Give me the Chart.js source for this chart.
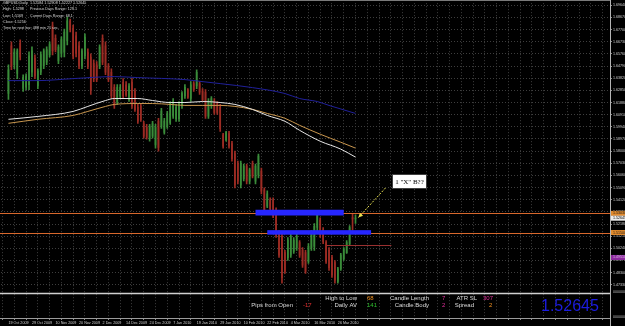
<!DOCTYPE html>
<html><head><meta charset="utf-8">
<script src="https://cdn.jsdelivr.net/npm/chart.js@4/dist/chart.umd.min.js"></script>
<style>html,body{margin:0;padding:0;background:#000;overflow:hidden}#wrap{width:625px;height:326px}</style>
</head><body><div id="wrap"><canvas id="c" width="625" height="326"></canvas></div>
<script>
// ---- data (daily GBPUSD candles, index 0 = 19 Oct 2009) ----
const opens = [1.6260,1.6640,1.6490,1.6420,1.6660,1.6300,1.6310,1.6330,1.6430,1.6540,1.6320,1.6430,1.6480,1.6510,1.6570,1.6800,1.6700,1.6520,1.6580,1.6590,1.6680,1.6840,1.6780,1.6720,1.6640,1.6480,1.6560,1.6590,1.6550,1.6500,1.6490,1.6480,1.6700,1.6640,1.6480,1.6430,1.6310,1.6190,1.6240,1.6350,1.6330,1.6210,1.6350,1.6280,1.6150,1.6160,1.6020,1.5990,1.5900,1.5920,1.5850,1.6040,1.6000,1.5950,1.6000,1.6030,1.6080,1.6060,1.6060,1.6160,1.6240,1.6290,1.6220,1.6340,1.6320,1.6340,1.6280,1.6270,1.6080,1.6160,1.6200,1.6180,1.6150,1.5930,1.5890,1.5940,1.5860,1.5780,1.5700,1.5530,1.5580,1.5680,1.5560,1.5700,1.5560,1.5610,1.5640,1.5490,1.5360,1.5410,1.5410,1.5330,1.5150,1.5120,1.4990,1.4950,1.4970,1.5000,1.5030,1.5070,1.5010,1.4990,1.4920,1.5030,1.5040,1.5190,1.5250,1.5170,1.5070,1.5010,1.4950,1.4910,1.4760,1.4860,1.4940,1.4990,1.5060,1.5270,1.52584];
const highs = [1.6490,1.6672,1.6617,1.6617,1.6688,1.6410,1.6418,1.6593,1.6633,1.6569,1.6458,1.6593,1.6617,1.6633,1.6672,1.6831,1.6728,1.6648,1.6712,1.6775,1.6870,1.6854,1.6807,1.6751,1.6672,1.6617,1.6736,1.6617,1.6577,1.6529,1.6514,1.6648,1.6728,1.6672,1.6498,1.6458,1.6331,1.6331,1.6331,1.6379,1.6355,1.6339,1.6379,1.6299,1.6173,1.6173,1.6038,1.6014,1.6014,1.6038,1.6014,1.6062,1.6141,1.6062,1.6117,1.6196,1.6220,1.6173,1.6196,1.6276,1.6331,1.6299,1.6355,1.6355,1.6450,1.6355,1.6299,1.6291,1.6220,1.6236,1.6220,1.6196,1.6173,1.5943,1.5958,1.5958,1.5879,1.5800,1.5720,1.5720,1.5697,1.5697,1.5665,1.5720,1.5697,1.5776,1.5665,1.5506,1.5482,1.5427,1.5427,1.5348,1.5165,1.5142,1.5007,1.5110,1.5142,1.5110,1.5142,1.5086,1.5030,1.5007,1.5062,1.5165,1.5221,1.5324,1.5268,1.5189,1.5086,1.5030,1.4967,1.4927,1.4872,1.4983,1.5030,1.5086,1.5205,1.5298,1.52908];
const lows = [1.6212,1.6450,1.6458,1.6379,1.6529,1.6276,1.6291,1.6291,1.6395,1.6379,1.6299,1.6410,1.6458,1.6490,1.6553,1.6569,1.6593,1.6498,1.6553,1.6553,1.6648,1.6751,1.6537,1.6553,1.6458,1.6458,1.6537,1.6458,1.6252,1.6355,1.6355,1.6458,1.6490,1.6410,1.6355,1.6220,1.6141,1.6173,1.6220,1.6220,1.6236,1.6196,1.6141,1.6117,1.6022,1.6038,1.5903,1.5895,1.5879,1.5903,1.5824,1.5800,1.5982,1.5935,1.5982,1.6014,1.6062,1.6038,1.6038,1.6141,1.6220,1.6220,1.6196,1.6276,1.6299,1.6252,1.6196,1.6062,1.6062,1.6141,1.6093,1.6093,1.5958,1.5824,1.5879,1.5824,1.5720,1.5506,1.5538,1.5506,1.5562,1.5538,1.5538,1.5586,1.5538,1.5586,1.5459,1.5300,1.5348,1.5324,1.5268,1.5110,1.4951,1.4745,1.4824,1.4927,1.4951,1.4983,1.5007,1.4951,1.4872,1.4824,1.4903,1.5007,1.5007,1.5165,1.5110,1.5062,1.4903,1.4848,1.4792,1.4745,1.4745,1.4848,1.4927,1.4983,1.5046,1.5169,1.52227];
const closes = [1.6450,1.6480,1.6590,1.6600,1.6550,1.6390,1.6400,1.6560,1.6600,1.6400,1.6440,1.6570,1.6600,1.6610,1.6650,1.6600,1.6610,1.6630,1.6690,1.6750,1.6840,1.6770,1.6560,1.6580,1.6480,1.6600,1.6710,1.6480,1.6290,1.6380,1.6370,1.6630,1.6510,1.6430,1.6370,1.6240,1.6160,1.6310,1.6310,1.6240,1.6250,1.6320,1.6160,1.6130,1.6040,1.6050,1.5920,1.5910,1.6000,1.6020,1.5990,1.5830,1.6120,1.6040,1.6100,1.6180,1.6200,1.6150,1.6180,1.6260,1.6310,1.6230,1.6330,1.6290,1.6430,1.6270,1.6210,1.6080,1.6200,1.6220,1.6110,1.6110,1.5980,1.5840,1.5950,1.5840,1.5740,1.5530,1.5560,1.5700,1.5680,1.5560,1.5650,1.5600,1.5680,1.5760,1.5480,1.5320,1.5460,1.5340,1.5280,1.5130,1.4970,1.4790,1.4840,1.5090,1.5120,1.5090,1.5120,1.4970,1.4890,1.4840,1.5040,1.5150,1.5200,1.5300,1.5130,1.5080,1.4920,1.4870,1.4810,1.4770,1.4860,1.4970,1.5020,1.5070,1.5190,1.5256,1.52645];
const dateLabels = ['19 Oct 2009','29 Oct 2009','10 Nov 2009','20 Nov 2009','2 Dec 2009','14 Dec 2009','24 Dec 2009','7 Jan 2010','19 Jan 2010','29 Jan 2010','10 Feb 2010','22 Feb 2010','4 Mar 2010','16 Mar 2010','26 Mar 2010'];
const priceTicks = [1.47330,1.48300,1.49270,1.50240,1.51210,1.52180,1.53150,1.54120,1.55090,1.56060,1.57030,1.58000,1.58970,1.59940,1.60910,1.61880,1.62850,1.63820,1.64790,1.65760,1.66730,1.67700,1.68670,1.69640];
// moving averages: [bar index, price]
const maBlue = [[0,1.6363],[10,1.6363],[22,1.6379],[36,1.6395],[44,1.6387],[60,1.6371],[66,1.6355],[72,1.6339],[83,1.6307],[94,1.6260],[99,1.6220],[105,1.6196],[109,1.6165],[118,1.6101]];
const maWhite = [[0,1.6054],[10,1.6077],[22,1.6117],[27,1.6157],[33,1.6204],[36,1.6220],[44,1.6220],[49,1.6204],[55,1.6188],[60,1.6188],[66,1.6196],[72,1.6188],[77,1.6173],[83,1.6133],[88,1.6085],[94,1.6038],[99,1.5966],[106,1.5879],[113,1.5816],[118,1.5752]];
const maOrange = [[0,1.6022],[10,1.6054],[22,1.6085],[27,1.6117],[33,1.6157],[36,1.6173],[44,1.6180],[49,1.6180],[55,1.6173],[60,1.6165],[66,1.6165],[72,1.6165],[77,1.6157],[83,1.6133],[88,1.6101],[94,1.6062],[99,1.6006],[106,1.5935],[113,1.5871],[118,1.5824]];
// drawn objects
const levelLines = [1.5303, 1.5150];
const zones = [{from:84,to:114,top:1.5332,bottom:1.5286},{from:88,to:123.3,top:1.5169,bottom:1.5133}];
const redLine = {from:108.2,to:130.2,price:1.5052};
const noteBox = {from:130.5,to:141.8,top:1.5618,bottom:1.5506,text:'1 "X" B??'};
const arrow = {fromX:128.2,fromP:1.5506,toX:119,toP:1.5270};
const bidPrice = 1.52645, stopPrice = 1.4951;
const infoLines = [['GBPUSD,Daily','1.52584 1.52908 1.52227 1.52645'],['High: 1.5298','Previous Days Range: 129.1'],['Low: 1.5169','Current Days Range: 68.1'],['Close: 1.5256',''],['Time for next bar: 488 min 21 sec.','']];
const panelStats = [
  {label:'Pips from Open',value:'-17',color:'#e83030',lx:293,vx:303,row:1},
  {label:'High to Low',value:'68',color:'#f09020',lx:357,vx:367,row:0},
  {label:'Daily AV',value:'141',color:'#30c030',lx:357,vx:367,row:1},
  {label:'Candle Length',value:'7',color:'#e0309a',lx:429,vx:442,row:0},
  {label:'Candle Body',value:'2',color:'#e0309a',lx:429,vx:442,row:1},
  {label:'ATR SL',value:'307',color:'#e0309a',lx:477,vx:483,row:0},
  {label:'Spread',value:'2',color:'#f09020',lx:474,vx:489,row:1}
];

const UP = '#3a8c3a', DN = '#9c2c24';
const cols = opens.map((o,i) => closes[i] >= o ? UP : DN);
const gridIdx = []; for (let v = 0; v <= 200; v += 4) gridIdx.push(v);
const SANS = '"Liberation Sans", Arial, sans-serif';

const overlay = {
  id: 'overlay',
  afterDatasetsDraw(chart) {
    const {ctx, chartArea: a, scales: {x, y}} = chart;
    ctx.save();
    // horizontal level lines
    ctx.strokeStyle = '#d8682c'; ctx.lineWidth = 1;
    levelLines.forEach(p => { const py = Math.round(y.getPixelForValue(p)) + 0.5; ctx.beginPath(); ctx.moveTo(0, py); ctx.lineTo(a.right, py); ctx.stroke(); });
    // blue zones
    ctx.fillStyle = '#2626ff';
    zones.forEach(z => { const x1 = x.getPixelForValue(z.from), x2 = x.getPixelForValue(z.to), y1 = y.getPixelForValue(z.top), y2 = y.getPixelForValue(z.bottom); ctx.fillRect(x1, y1, x2 - x1, y2 - y1); });
    // red short line
    ctx.strokeStyle = '#9a3030';
    let py = Math.round(y.getPixelForValue(redLine.price)) + 0.5;
    ctx.beginPath(); ctx.moveTo(x.getPixelForValue(redLine.from), py); ctx.lineTo(x.getPixelForValue(redLine.to), py); ctx.stroke();
    // arrow
    const ax1 = x.getPixelForValue(arrow.fromX), ay1 = y.getPixelForValue(arrow.fromP), ax2 = x.getPixelForValue(arrow.toX), ay2 = y.getPixelForValue(arrow.toP);
    ctx.strokeStyle = '#e8e050'; ctx.setLineDash([2,1.5]);
    ctx.beginPath(); ctx.moveTo(ax1, ay1); ctx.lineTo(ax2, ay2); ctx.stroke(); ctx.setLineDash([]);
    const ang = Math.atan2(ay2 - ay1, ax2 - ax1);
    ctx.fillStyle = '#e8e050'; ctx.beginPath(); ctx.moveTo(ax2, ay2);
    ctx.lineTo(ax2 - 5*Math.cos(ang - 0.45), ay2 - 5*Math.sin(ang - 0.45));
    ctx.lineTo(ax2 - 5*Math.cos(ang + 0.45), ay2 - 5*Math.sin(ang + 0.45)); ctx.closePath(); ctx.fill();
    // note box
    const bx1 = Math.round(x.getPixelForValue(noteBox.from)) + 0.5, bx2 = Math.round(x.getPixelForValue(noteBox.to)) + 0.5;
    const by1 = Math.round(y.getPixelForValue(noteBox.top)) + 0.5, by2 = Math.round(y.getPixelForValue(noteBox.bottom)) + 0.5;
    ctx.fillStyle = '#ffffff'; ctx.fillRect(bx1, by1, bx2 - bx1, by2 - by1);
    ctx.strokeStyle = '#404040'; ctx.strokeRect(bx1, by1, bx2 - bx1, by2 - by1);
    ctx.fillStyle = '#000'; ctx.font = '7px "Liberation Serif", serif'; ctx.textAlign = 'center'; ctx.textBaseline = 'middle';
    ctx.fillText(noteBox.text, (bx1 + bx2) / 2, (by1 + by2) / 2 + 0.5);
    ctx.restore();
  },
  afterDraw(chart) {
    const {ctx, chartArea: a, scales: {y}} = chart;
    ctx.save();
    // frame
    ctx.strokeStyle = '#7a7a7a'; ctx.lineWidth = 1;
    ctx.beginPath(); ctx.moveTo(0, 0.5); ctx.lineTo(a.right, 0.5); ctx.stroke();
    ctx.strokeStyle = '#b4b4b4';
    ctx.beginPath(); ctx.moveTo(a.right + 0.5, 0); ctx.lineTo(a.right + 0.5, 326); ctx.stroke();
    // lower panel separator
    const sep = a.bottom - 24.5;
    ctx.strokeStyle = '#d0d0d0'; ctx.lineWidth = 1.5;
    ctx.beginPath(); ctx.moveTo(0, sep); ctx.lineTo(a.right, sep); ctx.stroke();
    ctx.lineWidth = 1; ctx.strokeStyle = '#9a9a9a';
    ctx.beginPath(); ctx.moveTo(0, a.bottom + 0.5); ctx.lineTo(a.right, a.bottom + 0.5); ctx.stroke();
    // panel stats
    ctx.textBaseline = 'middle';
    ctx.font = '6px ' + SANS;
    panelStats.forEach(s => {
      const ty = s.row === 0 ? a.bottom - 19.5 : a.bottom - 12.5;
      ctx.fillStyle = '#dcdcdc'; ctx.textAlign = 'right'; ctx.fillText(s.label, s.lx, ty);
      ctx.fillStyle = s.color; ctx.textAlign = 'left'; ctx.fillText(s.value, s.vx, ty);
    });
    ctx.fillStyle = '#1c1ce0'; ctx.font = '16px ' + SANS; ctx.textAlign = 'left';
    ctx.fillText(bidPrice.toFixed(5), 541, a.bottom - 11.5);
    // info text
    ctx.font = '3.7px ' + SANS; ctx.fillStyle = '#d8d8d8';
    infoLines.forEach((l, k) => { const ty = 3.3 + k * 6.1; ctx.fillText(l[0], 3, ty); if (l[1]) ctx.fillText(l[1], 30, ty); });
    // right-axis marker labels
    const tag = (p, bg, fg) => { const ty = y.getPixelForValue(p); ctx.fillStyle = bg; ctx.fillRect(a.right + 1, ty - 2.5, 15, 5); ctx.fillStyle = fg; ctx.font = '3.6px ' + SANS; ctx.textAlign = 'left'; ctx.fillText(p.toFixed(5), a.right + 3, ty); };
    levelLines.forEach(p => tag(p, '#e08a2e', '#1a1a1a'));
    tag(bidPrice, '#ececec', '#000');
    tag(stopPrice, '#8e2aa0', '#d8b8e0');
    ctx.fillStyle = '#bdbdbd'; ctx.font = '3.6px ' + SANS;
    ctx.fillText('0000000', a.right + 3, sep - 2);
    ctx.fillText('0000000', a.right + 3, a.bottom - 1);
    ctx.restore();
  }
};

new Chart(document.getElementById('c'), {
  type: 'bar',
  data: {
    datasets: [
      { type: 'line', data: maBlue.map(p => ({x: p[0], y: p[1]})), borderColor: '#20209a', borderWidth: 1, pointRadius: 0, cubicInterpolationMode: 'monotone' },
      { type: 'line', data: maWhite.map(p => ({x: p[0], y: p[1]})), borderColor: '#e6e6e6', borderWidth: 1, pointRadius: 0, cubicInterpolationMode: 'monotone' },
      { type: 'line', data: maOrange.map(p => ({x: p[0], y: p[1]})), borderColor: '#c8964e', borderWidth: 1, pointRadius: 0, cubicInterpolationMode: 'monotone' },
      { data: highs.map((h, i) => ({x: i, y: [lows[i], h]})), backgroundColor: cols, barThickness: 1, grouped: false },
      { data: opens.map((o, i) => ({x: i, y: [Math.min(o, closes[i]), Math.max(o, closes[i])]})), backgroundColor: cols, barThickness: 1, minBarLength: 1, grouped: false }
    ]
  },
  options: {
    responsive: false, animation: false, devicePixelRatio: 1,
    layout: { padding: { left: 1, top: 1, right: 0, bottom: 0 } },
    plugins: { legend: { display: false }, tooltip: { enabled: false } },
    scales: {
      x: {
        type: 'linear', min: -0.5, max: 202.5,
        afterFit: s => { s.height = 8; },
        afterBuildTicks: s => { s.ticks = gridIdx.map(v => ({value: v})); },
        ticks: { color: '#cfcfcf', font: { size: 3.7, family: SANS }, maxRotation: 0, autoSkip: false, align: 'start', padding: 1,
          callback: v => (v % 8 === 0 && v / 8 < dateLabels.length) ? dateLabels[v / 8] : '' },
        grid: { color: '#3e3e3e', tickLength: 2, tickColor: '#8a8a8a' },
        border: { display: false, dash: [1, 2] }
      },
      y: {
        position: 'right', min: 1.44676, max: 1.69814,
        afterFit: s => { s.width = 15; },
        afterBuildTicks: s => { s.ticks = priceTicks.map(v => ({value: v})); },
        ticks: { color: '#cfcfcf', font: { size: 3.6, family: SANS }, padding: 1, autoSkip: false, callback: v => v.toFixed(5) },
        grid: { color: '#3e3e3e', tickLength: 2, tickColor: '#8a8a8a' },
        border: { display: false, dash: [1, 2] }
      }
    }
  },
  plugins: [overlay]
});
</script>
</body></html>
